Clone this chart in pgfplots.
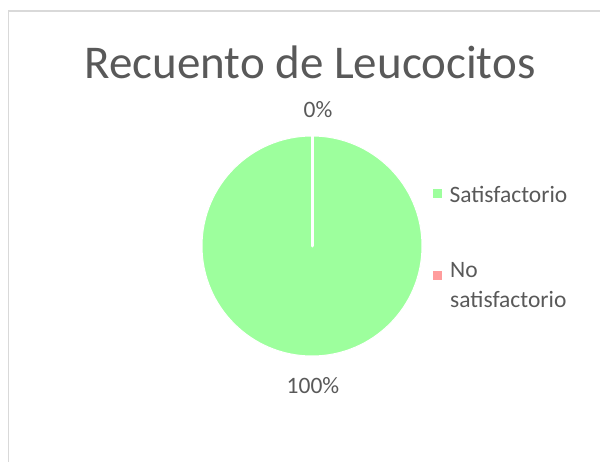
\documentclass[border=0pt]{standalone}
\usepackage{fontspec}
\setmainfont{Carlito}
\usepackage{pgfplots}
\pgfplotsset{compat=1.18}
\definecolor{satgreen}{HTML}{9DFF9D}
\definecolor{nosatpink}{HTML}{FF9C9C}
\definecolor{txtgray}{HTML}{595959}
\definecolor{framegray}{HTML}{D9D9D9}

\begin{document}
\begin{tikzpicture}[x=1pt,y=1pt]
\useasboundingbox (0,0) rectangle (600,461);
\clip (0,0) rectangle (600,461);
% chart frame (runs off the right and bottom edges)
\draw[framegray, line width=1.5pt] (8.5,-20) -- (8.5,450) -- (620,450);
\begin{axis}[
  at={(0,0)}, anchor=south west,
  width=600pt, height=461pt, scale only axis,
  xmin=0, xmax=600, ymin=0, ymax=461, y dir=reverse,
  hide axis, clip=false, clip mode=individual,
]
% pie: Satisfactorio 100 %, No satisfactorio 0 %
\addplot[only marks, mark=*, mark size=110pt,
  mark options={fill=satgreen, draw=white, line width=1pt}] coordinates {(312,246)};
% 0 % slice collapses to its white border
\addplot[white, line width=3pt, line cap=round, no marks] coordinates {(312,246) (312,135)};
% legend keys
\addplot[only marks, mark=square*, mark size=4pt, satgreen] coordinates {(437.5,193)};
\addplot[only marks, mark=square*, mark size=4pt, nosatpink] coordinates {(437.5,275)};

\node[txtgray, font=\fontsize{47}{56}\selectfont] at (axis cs:310,62) {Recuento de Leucocitos};
\node[txtgray, font=\fontsize{23.5}{30}\selectfont] at (axis cs:318,110) {0\%};
\node[txtgray, font=\fontsize{23.5}{30}\selectfont] at (axis cs:313,386) {100\%};
\node[txtgray, font=\fontsize{23.5}{30}\selectfont, anchor=west] at (axis cs:446,194) {Satisfactorio};
\node[txtgray, font=\fontsize{23.5}{30}\selectfont, anchor=north west, align=left, inner sep=0pt]
  at (axis cs:450,262) {No\\satisfactorio};
\end{axis}
\end{tikzpicture}
\end{document}
